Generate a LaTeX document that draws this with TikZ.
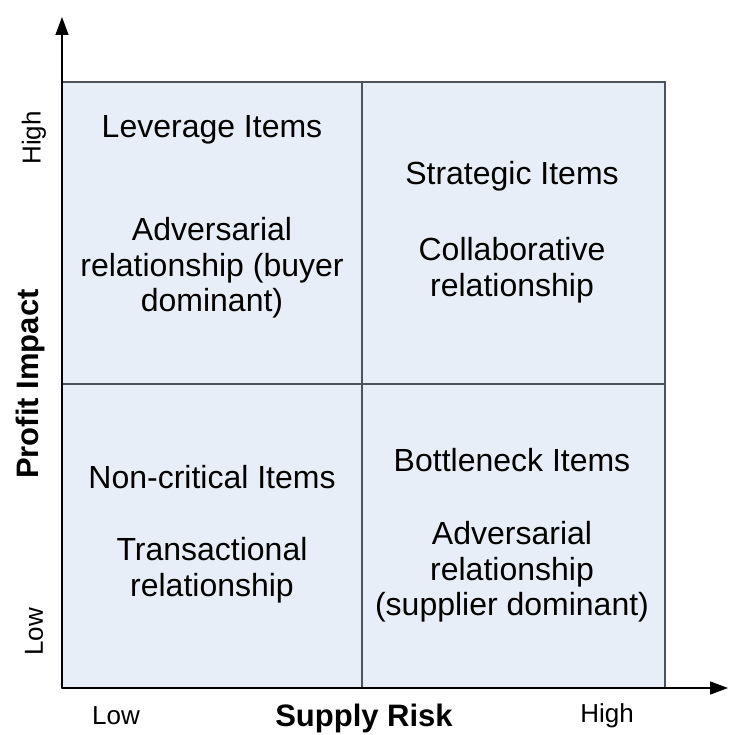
\documentclass[tikz,border=0pt]{standalone}
\usepackage{fontspec}
\setmainfont{Liberation Sans}
\usetikzlibrary{arrows.meta}

\definecolor{cellblue}{HTML}{E8EEF8}
\definecolor{gridgrey}{HTML}{4B535C}

\begin{document}
\begin{tikzpicture}[x=1pt,y=-1pt,
  txt/.style={align=center,font=\fontsize{32}{35.5}\selectfont,inner sep=0pt},
  tick/.style={font=\fontsize{26}{28}\selectfont,inner sep=0pt},
  axlabel/.style={font=\fontsize{31}{34}\selectfont\bfseries,inner sep=0pt},
  axis/.style={line width=1.5pt,-{Triangle[length=18pt,width=13pt]}}]

		\useasboundingbox (0,0) rectangle (728,735);

		% The four quadrants
		\fill[cellblue] (62,82) rectangle (665,688);
		\draw[gridgrey,line width=1.5pt] (62,82) rectangle (665,688);
		\draw[gridgrey,line width=1.5pt] (362,82) -- (362,688);
		\draw[gridgrey,line width=1.5pt] (62,384) -- (665,384);

		% Axes
		\coordinate (origin) at (62,688);
		\coordinate (ytop) at (62,17);
		\coordinate (xend) at (728,688);
		\draw[axis] (origin) -- (ytop);
		\draw[axis] (origin) -- (xend);

		% Quadrant texts
		\node[txt] (levtitle) at (212,130) {Leverage Items};
		\node[txt] (levbody) at (212,268) {Adversarial\\relationship (buyer\\dominant)};
		\node[txt] (strtitle) at (512,176) {Strategic Items};
		\node[txt] (strbody) at (512,270) {Collaborative\\relationship};
		\node[txt] (noctitle) at (212,477) {Non-critical Items};
		\node[txt] (nocbody) at (212,570) {Transactional\\relationship};
		\node[txt] (bottitle) at (512,460) {Bottleneck Items};
		\node[txt] (botbody) at (512,572) {Adversarial\\relationship\\(supplier dominant)};

		% Axis labels
		\node[tick] (xlow) at (116,716) {Low};
		\node[axlabel] (xlabel) at (364,718) {Supply Risk};
		\node[tick] (xhigh) at (607,716) {High};
		\node[tick,rotate=90] (yhigh) at (34,138) {High};
		\node[axlabel,rotate=90] (ylabel) at (30,384) {Profit Impact};
		\node[tick,rotate=90] (ylow) at (34,632) {Low};

	\end{tikzpicture}
\end{document}
